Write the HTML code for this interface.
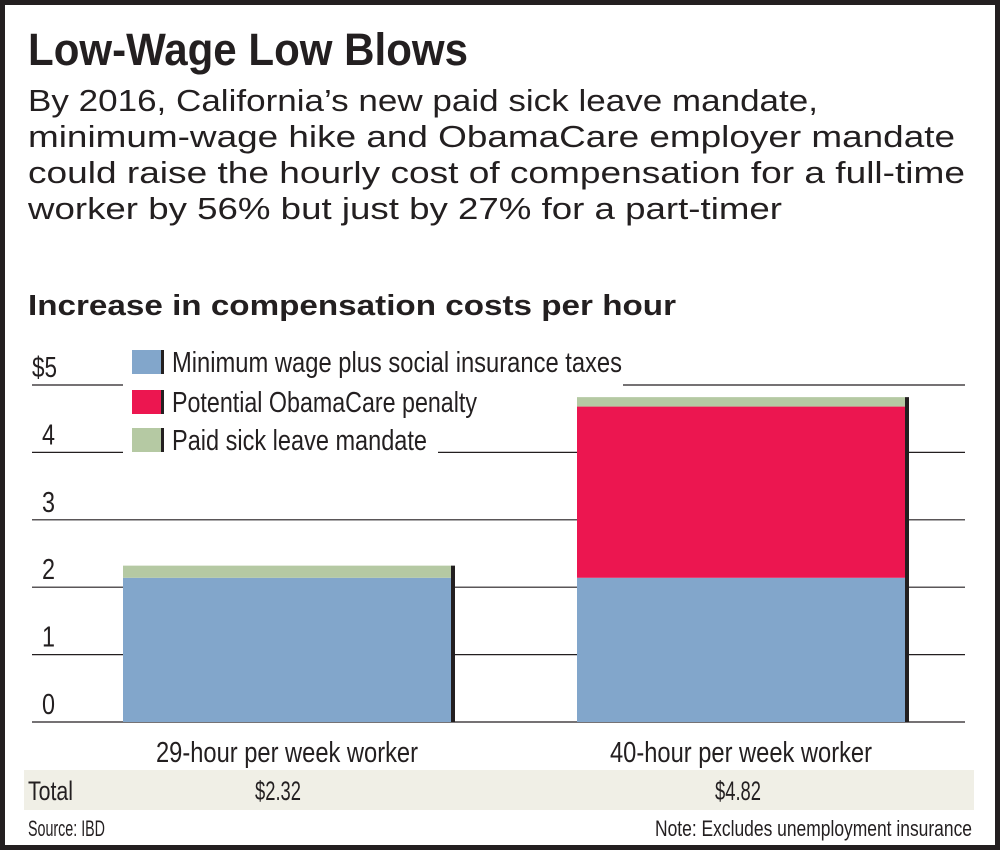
<!DOCTYPE html>
<html><head><meta charset="utf-8"><style>
body{margin:0;background:#fff}
svg{display:block}
text{font-family:"Liberation Sans",sans-serif;fill:#231f20}
</style></head><body>
<svg id="chart" width="1000" height="850" viewBox="0 0 1000 850" xmlns="http://www.w3.org/2000/svg">
<rect x="2.5" y="2.5" width="995" height="845" fill="#fff" stroke="#231f20" stroke-width="5"/>
<text x="28" y="65" font-size="45" font-weight="bold" textLength="440" lengthAdjust="spacingAndGlyphs">Low-Wage Low Blows</text>
<g font-size="31">
<text x="28" y="111" textLength="790" lengthAdjust="spacingAndGlyphs">By 2016, California’s new paid sick leave mandate,</text>
<text x="28" y="147" textLength="927" lengthAdjust="spacingAndGlyphs">minimum-wage hike and ObamaCare employer mandate</text>
<text x="28" y="183" textLength="937" lengthAdjust="spacingAndGlyphs">could raise the hourly cost of compensation for a full-time</text>
<text x="28" y="219" textLength="754" lengthAdjust="spacingAndGlyphs">worker by 56% but just by 27% for a part-timer</text>
</g>
<text x="28" y="315" font-size="29" font-weight="bold" textLength="648" lengthAdjust="spacingAndGlyphs">Increase in compensation costs per hour</text>
<g id="grid"></g>
<g id="bars"></g>
<g id="legend"></g>
<rect x="24" y="770" width="950" height="40" fill="#f0efe6"/>
<text x="28" y="800" font-size="27" textLength="45" lengthAdjust="spacingAndGlyphs">Total</text>
<g id="totals"></g>
<text x="28" y="836" font-size="22" textLength="77" lengthAdjust="spacingAndGlyphs">Source: IBD</text>
<text x="972" y="836" font-size="22" text-anchor="end" textLength="317" lengthAdjust="spacingAndGlyphs">Note: Excludes unemployment insurance</text>
</svg>
<script>
const categories = ["29-hour per week worker", "40-hour per week worker"];
const minWage = [2.14, 2.14];
const obamacare = [0, 2.54];
const sickLeave = [0.18, 0.14];
const totals = ["$2.32", "$4.82"];
const yTicks = [0, 1, 2, 3, 4, 5];
const seriesNames = ["Minimum wage plus social insurance taxes", "Potential ObamaCare penalty", "Paid sick leave mandate"];
const colors = ["#82a6cb", "#ec1650", "#b5c9a3"];

const NS = "http://www.w3.org/2000/svg";
const y0 = 722, pxPerUnit = 67.4;
function y(v){ return y0 - v * pxPerUnit; }
const barLeft = [123, 577], barW = 328;
function mk(tag, attrs, parent){ const e=document.createElementNS(NS,tag); for(const k in attrs) e.setAttribute(k,attrs[k]); parent.appendChild(e); return e; }

const grid = document.getElementById('grid');
yTicks.forEach(t=>{
  const ln = mk('line',{x1:32,x2:965,y1:y(t),y2:y(t),stroke:'#231f20','stroke-width':1.2},grid);
  
  
  const tx = mk('text',{x: t===5?32:42, y:y(t)-8,'font-size':29,textLength:t===5?25:13,lengthAdjust:'spacingAndGlyphs'},grid);
  tx.textContent = t===5 ? '$5' : String(t);
  
  
});

const bars = document.getElementById('bars');
categories.forEach((c,i)=>{
  const x = barLeft[i];
  const segs = [minWage[i], obamacare[i], sickLeave[i]];
  let base = 0;
  segs.forEach((v,s)=>{
    if(v<=0) return;
    const r = mk('rect',{x:x,y:y(base+v),width:barW,height:y(base)-y(base+v),fill:colors[s]},bars);
    
    
    base += v;
  });
  const edge = mk('rect',{x:x+barW,y:y(base),width:4,height:y0-y(base),fill:'#231f20'},bars);
  
  
  const lb = mk('text',{x:x+barW/2,y:762,'font-size':29,'text-anchor':'middle',textLength:262,lengthAdjust:'spacingAndGlyphs'},bars);
  lb.textContent = c;
  
  
});

const totG = document.getElementById('totals');
totals.forEach((t,i)=>{
  const tx = mk('text',{x:barLeft[i]+barW/2-9*(1-i)-3*i,y:800,'font-size':27,'text-anchor':'middle',textLength:46,lengthAdjust:'spacingAndGlyphs'},totG);
  tx.textContent = t;
  
  
});

const leg = document.getElementById('legend');
const legY = [350, 390, 428], legW = [450, 305, 255];
const maskH = [42, 34, 34];
seriesNames.forEach((n,i)=>{
  const g = mk('g',{},leg);
  
  
  mk('rect',{x:123,y:legY[i]-5,width:legW[i]+(i===0?50:60),height:maskH[i],fill:'#fff'},g);
  mk('rect',{x:132,y:legY[i],width:29,height:24,fill:colors[i]},g);
  mk('rect',{x:161,y:legY[i],width:3,height:24,fill:'#231f20'},g);
  const tx = mk('text',{x:172,y:legY[i]+22,'font-size':29,textLength:legW[i],lengthAdjust:'spacingAndGlyphs'},g);
  tx.textContent = n;
});
</script>
</body></html>
